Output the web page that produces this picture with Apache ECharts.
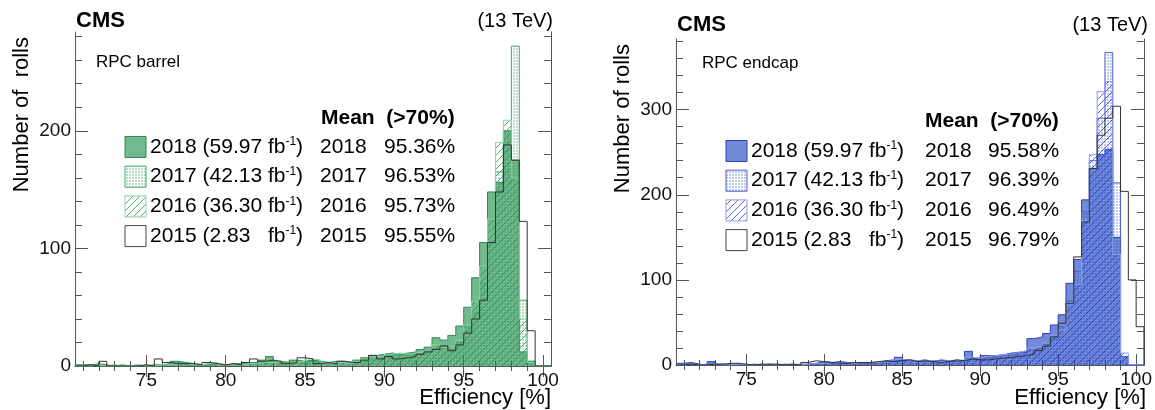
<!DOCTYPE html>
<html><head><meta charset="utf-8">
<script src="https://cdn.jsdelivr.net/npm/echarts@6/dist/echarts.min.js"></script>
<style>html,body{margin:0;padding:0;background:#fff}#c{width:1155px;height:410px}</style>
</head><body><div id="c"></div>
<script>
// ---------------- DATA ----------------
const BIN_START = 70.5;   // first bin low edge [%]
const BIN_WIDTH = 0.5;    // bin width [%]
const X_MIN = 70.5, X_MAX = 100.5;
const years = ['2018', '2017', '2016', '2015'];
const lumis = ['59.97', '42.13', '36.30', '2.83  '];
const meanBarrel = ['95.36%', '96.53%', '95.73%', '95.55%'];
const meanEndcap = ['95.58%', '96.39%', '96.49%', '96.79%'];
const xMajorTicks = [75, 80, 85, 90, 95, 100];
const xMinorTicks = [71,72,73,74,76,77,78,79,81,82,83,84,86,87,88,89,91,92,93,94,96,97,98,99];
const yMajorBarrel = [0, 100, 200];
const yMinorBarrel = [20,40,60,80,120,140,160,180,220,240,260,280];
const yMajorEndcap = [0, 100, 200, 300];
const yMinorEndcap = [20,40,60,80,120,140,160,180,220,240,260,280,320,340,360,380];
const yMaxBarrel = 284, yMaxEndcap = 383;

// Barrel counts per 0.5% bin (70.5 ... 100.5)
const barrel2018 = [1,1,2,1,0,1,0,1,0,1, 1,2,4,3,2,1,2,2,1,2, 2,3,3,5,8,4,3,5,4,5,
                    4,3,4,4,3,5,7,9,10,11, 10,11,12,14,16,24,22,26,34,50, 75,105,148,156,200,175,12,4,0,0];
const barrel2017 = [0,1,0,0,1,0,0,0,1,0, 0,1,2,1,1,0,1,1,1,1, 1,2,2,3,4,3,2,3,3,4,
                    3,3,3,3,3,4,5,6,8,9, 9,9,10,11,12,15,17,14,20,33, 45,70,105,165,200,272,56,4,0,0];
const barrel2016 = [0,0,1,0,0,0,0,1,0,0, 1,1,2,2,1,1,2,3,1,1, 1,2,2,3,3,4,2,3,4,6,
                    5,3,3,3,2,4,6,8,8,10, 11,10,11,12,13,18,16,17,22,35, 55,85,125,190,209,160,40,3,0,0];
const barrel2015 = [0,1,0,4,0,0,0,0,1,0, 6,3,2,2,2,1,3,2,1,2, 1,3,6,4,5,4,2,3,7,6,
                    2,3,2,4,3,3,5,9,6,8, 6,7,8,10,12,14,17,13,18,28, 40,56,105,148,188,175,123,30,0,0];
// Endcap counts per 0.5% bin
const endcap2018 = [2,3,1,0,4,1,0,1,0,1, 0,1,0,1,0,1,1,2,4,3, 4,3,2,2,3,3,5,6,9,6,
                    5,6,4,6,5,4,6,16,8,11, 11,12,14,15,15,31,33,37,47,59, 96,124,194,231,247,253,150,10,0,0];
const endcap2017 = [1,1,0,1,1,0,0,0,0,0, 1,0,1,0,1,0,1,1,2,2, 2,2,1,2,2,3,4,5,6,5,
                    5,4,5,5,4,5,5,8,7,9, 10,11,12,14,16,18,20,24,30,45, 75,110,180,240,290,367,214,10,0,0];
const endcap2016 = [0,1,0,0,1,0,0,1,0,0, 0,1,0,1,1,0,1,2,2,3, 2,2,2,3,3,3,5,6,7,5,
                    5,5,5,4,5,6,5,9,8,10, 11,12,13,15,17,20,22,26,35,41, 71,95,170,247,321,333,130,14,0,0];
const endcap2015 = [0,1,0,0,1,1,2,2,1,0, 1,1,1,0,1,0,3,5,4,3, 2,2,3,3,3,4,5,4,5,6,
                    4,5,4,3,4,6,5,7,6,6, 7,8,9,10,11,13,17,22,33,49, 72,127,168,231,270,290,304,204,100,45];

// ---------------- STYLE HELPERS ----------------
function hatch(color) {
  const n = 7;
  const c = document.createElement('canvas'); c.width = n; c.height = n;
  const g = c.getContext('2d'); g.strokeStyle = color; g.lineWidth = 1;
  g.beginPath(); g.moveTo(0, n); g.lineTo(n, 0); g.moveTo(-1, 1); g.lineTo(1, -1); g.moveTo(n - 1, n + 1); g.lineTo(n + 1, n - 1); g.stroke();
  return { image: c, repeat: 'repeat' };
}
function cross(color) {
  const c = document.createElement('canvas'); c.width = 3; c.height = 3;
  const g = c.getContext('2d'); g.fillStyle = color; g.fillRect(0, 0, 2, 2);
  return { image: c, repeat: 'repeat' };
}
const pal = {
  green: { solid: 'rgba(30,140,75,0.62)', l18: '#2f8a50', cross: cross('rgba(30,140,75,0.3)'), l17: '#45a86a',
           hatch: hatch('rgba(30,140,75,0.75)'), l16: '#8ad4a0', l15: '#333333' },
  blue:  { solid: 'rgba(20,60,190,0.6)', l18: '#2b3fbf', cross: cross('rgba(20,60,190,0.28)'), l17: '#4a5fcc',
           hatch: hatch('rgba(30,55,200,0.75)'), l16: '#8f9de8', l15: '#333333' }
};

function stepData(vals) {
  const d = vals.map((v, k) => [BIN_START + BIN_WIDTH * k, v]);
  d.push([BIN_START + BIN_WIDTH * vals.length, 0]);
  return d;
}
function histSeries(vals, xi, yi, line, area) {
  return { type: 'line', xAxisIndex: xi, yAxisIndex: yi, step: 'end', symbol: 'none', silent: true,
           data: stepData(vals), lineStyle: { color: line, width: 1 },
           areaStyle: area ? { color: area, opacity: 1 } : undefined, animation: false };
}

const FONT = '"Liberation Sans", Arial, Helvetica, sans-serif';
const AX = '#555';
function xAxes(g) {
  const base = { gridIndex: g, type: 'value', min: X_MIN, max: X_MAX, splitLine: { show: false } };
  return [
    Object.assign({}, base, { position: 'bottom', axisLine: { show: true, lineStyle: { color: AX } },
      axisTick: { show: true, inside: true, length: 11, customValues: xMajorTicks, lineStyle: { color: AX } },
      axisLabel: { show: true, customValues: xMajorTicks, margin: 5, fontSize: 19, color: '#111', fontFamily: FONT } }),
    Object.assign({}, base, { position: 'bottom', axisLine: { show: false },
      axisTick: { show: true, inside: true, length: 5, customValues: xMinorTicks, lineStyle: { color: AX } }, axisLabel: { show: false } }),
    Object.assign({}, base, { position: 'top', axisLine: { show: true, lineStyle: { color: AX } },
      axisTick: { show: true, inside: true, length: 11, customValues: xMajorTicks, lineStyle: { color: AX } }, axisLabel: { show: false } }),
    Object.assign({}, base, { position: 'top', axisLine: { show: false },
      axisTick: { show: true, inside: true, length: 5, customValues: xMinorTicks, lineStyle: { color: AX } }, axisLabel: { show: false } })
  ];
}
function yAxes(g, ymax, major, minor) {
  const base = { gridIndex: g, type: 'value', min: 0, max: ymax, splitLine: { show: false } };
  return [
    Object.assign({}, base, { position: 'left', axisLine: { show: true, lineStyle: { color: AX } },
      axisTick: { show: true, inside: true, length: 13, customValues: major, lineStyle: { color: AX } },
      axisLabel: { show: true, customValues: major, margin: 4, fontSize: 19, color: '#111', fontFamily: FONT } }),
    Object.assign({}, base, { position: 'left', axisLine: { show: false },
      axisTick: { show: true, inside: true, length: 7, customValues: minor, lineStyle: { color: AX } }, axisLabel: { show: false } }),
    Object.assign({}, base, { position: 'right', axisLine: { show: true, lineStyle: { color: AX } },
      axisTick: { show: true, inside: true, length: 13, customValues: major, lineStyle: { color: AX } }, axisLabel: { show: false } }),
    Object.assign({}, base, { position: 'right', axisLine: { show: false },
      axisTick: { show: true, inside: true, length: 7, customValues: minor, lineStyle: { color: AX } }, axisLabel: { show: false } })
  ];
}

function txt(text, x, y, size, opts) {
  opts = opts || {};
  return { type: 'text', x: x, y: y, rotation: opts.rot || 0, silent: true, z: 100,
    style: { text: text, fill: '#000', font: (opts.bold ? 'bold ' : '') + size + 'px ' + FONT,
             textAlign: opts.align || 'left', textVerticalAlign: 'middle', align: opts.align || 'left', verticalAlign: 'middle',
             rich: { s: { fontSize: 12, fontFamily: FONT, verticalAlign: 'top', lineHeight: 22 } } } };
}
function legend(p, x0, y0, colYear, colMean, means) {
  const els = [];
  const fills = [p.solid, p.cross, p.hatch, '#fff'];
  const strokes = [p.l18, p.l17, p.l16, '#444'];
  const dy = 29.7;
  for (let i = 0; i < 4; i++) {
    const y = y0 + i * dy;
    els.push({ type: 'rect', shape: { x: x0, y: y - 10.5, width: 21, height: 21 }, silent: true, z: 100,
               style: { fill: fills[i], stroke: strokes[i], lineWidth: 1 } });
    els.push(txt(years[i] + ' (' + lumis[i] + ' fb{s|-1})', x0 + 25, y, 21));
    els.push(txt(years[i], colYear, y, 21));
    els.push(txt(means[i], colMean, y, 21));
  }
  return els;
}

const g = pal.green, b = pal.blue;
const option = {
  backgroundColor: '#fff',
  animation: false,
  grid: [
    { left: 75, top: 32, width: 476, height: 334, containLabel: false },
    { left: 676, top: 39, width: 469, height: 326, containLabel: false }
  ],
  xAxis: xAxes(0).concat(xAxes(1)),
  yAxis: yAxes(0, yMaxBarrel, yMajorBarrel, yMinorBarrel).concat(yAxes(1, yMaxEndcap, yMajorEndcap, yMinorEndcap)),
  series: [
    histSeries(barrel2018, 0, 0, g.l18, g.solid),
    histSeries(barrel2017, 0, 0, g.l17, g.cross),
    histSeries(barrel2016, 0, 0, g.l16, g.hatch),
    histSeries(barrel2015, 0, 0, g.l15, null),
    histSeries(endcap2018, 4, 4, b.l18, b.solid),
    histSeries(endcap2017, 4, 4, b.l17, b.cross),
    histSeries(endcap2016, 4, 4, b.l16, b.hatch),
    histSeries(endcap2015, 4, 4, b.l15, null)
  ],
  graphic: { elements: [
    txt('CMS', 76, 21, 22, { bold: true }),
    txt('(13 TeV)', 553, 21, 20, { align: 'right' }),
    txt('RPC barrel', 96, 62, 17),
    txt('Mean  (>70%)', 321, 118, 21, { bold: true }),
    txt('Number of  rolls', 22, 37, 22, { rot: Math.PI / 2, align: 'right' }),
    txt('Efficiency [%]', 551, 398, 22, { align: 'right' }),
    txt('CMS', 677, 25, 22, { bold: true }),
    txt('(13 TeV)', 1148, 25, 20, { align: 'right' }),
    txt('RPC endcap', 702, 63, 17),
    txt('Mean  (>70%)', 925, 121, 21, { bold: true }),
    txt('Number of rolls', 623, 44, 22, { rot: Math.PI / 2, align: 'right' }),
    txt('Efficiency [%]', 1146, 398, 22, { align: 'right' })
  ].concat(legend(g, 125, 147, 320, 384, meanBarrel)).concat(legend(b, 726, 151, 925, 988, meanEndcap)) }
};
const chart = echarts.init(document.getElementById('c'), null, { renderer: 'canvas' });
chart.setOption(option);
</script></body></html>
